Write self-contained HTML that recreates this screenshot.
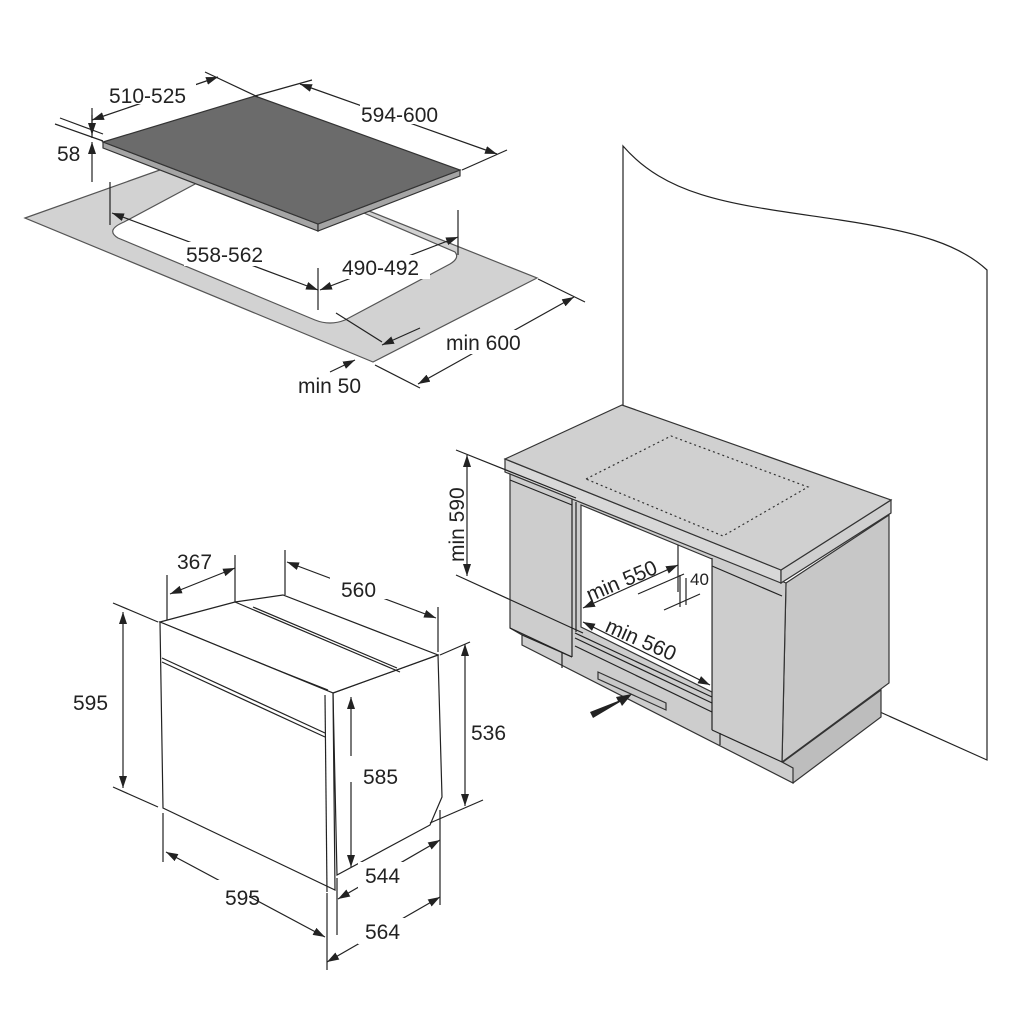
<!DOCTYPE html>
<html><head><meta charset="utf-8"><style>
html,body{margin:0;padding:0;background:#fff;}
svg{display:block;}
text{font-family:"Liberation Sans",Arial,sans-serif;font-size:21px;fill:#222;}
</style></head><body>
<svg width="1024" height="1024" viewBox="0 0 1024 1024" xmlns="http://www.w3.org/2000/svg">
<defs>
<marker id="a" viewBox="0 0 12 8" refX="12" refY="4" markerWidth="12" markerHeight="8" markerUnits="userSpaceOnUse" orient="auto-start-reverse"><path d="M0,0 L12,4 L0,8 z" fill="#222"/></marker>
</defs>
<g stroke="#222" stroke-width="1.2" fill="none">

<polygon points="25,218 216,150 537,278 373,362" fill="#d2d2d2" stroke="#555"/>
<path d="M124,222 L240,160 L455,252 Q460,258 450,264 L345,320 Q330,326 315,320 L118,238 Q105,230 124,222 z" fill="#fff" stroke="#555"/>
<polygon points="103,142 318,224 318,231 103,148" fill="#a5a5a5" stroke="#333"/>
<polygon points="318,224 460,170 460,176 318,231" fill="#a5a5a5" stroke="#333"/>
<polygon points="103,142 255,96 460,170 318,224" fill="#6b6b6b" stroke="#333"/>

<line x1="92" y1="120" x2="218" y2="77" marker-start="url(#a)" marker-end="url(#a)"/>
<line x1="205" y1="72" x2="258" y2="97"/>
<line x1="92" y1="108" x2="92" y2="138"/>
<line x1="255" y1="96" x2="312" y2="80"/>
<line x1="300" y1="84" x2="497" y2="154" marker-start="url(#a)" marker-end="url(#a)"/>
<line x1="462" y1="170" x2="507" y2="150"/>
<line x1="55" y1="124" x2="103" y2="141"/>
<line x1="60" y1="118" x2="103" y2="134"/>
<line x1="92" y1="115" x2="92" y2="135" marker-end="url(#a)"/>
<line x1="92" y1="182" x2="92" y2="142" marker-end="url(#a)"/>
<line x1="110" y1="182" x2="110" y2="225"/>
<line x1="318" y1="268" x2="318" y2="310"/>
<line x1="112" y1="213" x2="318" y2="290" marker-start="url(#a)" marker-end="url(#a)"/>
<line x1="458" y1="210" x2="458" y2="255"/>
<line x1="320" y1="290" x2="458" y2="237" marker-start="url(#a)" marker-end="url(#a)"/>
<line x1="538" y1="279" x2="585" y2="302"/>
<line x1="375" y1="365" x2="420" y2="388"/>
<line x1="418" y1="384" x2="574" y2="297" marker-start="url(#a)" marker-end="url(#a)"/>
<line x1="336" y1="313" x2="382" y2="342"/>
<line x1="330" y1="372" x2="355" y2="360" marker-end="url(#a)"/>
<line x1="420" y1="328" x2="382" y2="345" marker-end="url(#a)"/>

<path d="M623,410 L623,146 C670,200 740,205 840,220 C920,232 960,245 987,270 L987,760 L880,712" fill="#fff" stroke="#222"/>

<polygon points="783,762 881,690 881,717 793,783" fill="#bdbdbd" stroke="#333"/>
<polygon points="786,583 889,515 889,683 782,762" fill="#c7c7c7" stroke="#333"/>
<polygon points="510,470 786,583 782,762 793,768 793,783 522,645 522,635 510,628" fill="#cdcdcd" stroke="#333"/>
<line x1="510" y1="628" x2="572" y2="657"/>
<line x1="572" y1="497" x2="572" y2="657"/>
<line x1="712" y1="558" x2="712" y2="730"/>
<line x1="712" y1="730" x2="782" y2="762"/>
<line x1="712" y1="566" x2="782" y2="596"/>
<line x1="510" y1="480" x2="572" y2="505"/>
<line x1="522" y1="635" x2="572" y2="657"/>
<line x1="562" y1="652" x2="562" y2="668"/>
<line x1="720" y1="733" x2="720" y2="745"/>
<polygon points="581,505 712,559 712,692 581,627" fill="#fff" stroke="#333"/>
<line x1="576" y1="502" x2="576" y2="632"/>
<line x1="678" y1="545" x2="678" y2="592"/>
<line x1="575" y1="633" x2="712" y2="697"/>
<line x1="575" y1="638" x2="712" y2="703"/>
<line x1="575" y1="646" x2="712" y2="712"/>
<polygon points="598,672 666,703 666,710 598,679" fill="#c8c8c8" stroke="#333"/>
<polygon points="590,712 618,701 616,697 632,694 622,706 620,702 593,718" fill="#222" stroke="none"/>
<polygon points="505,459 781,570 781,583 505,472" fill="#d8d8d8" stroke="#333"/>
<polygon points="781,570 891,500 891,513 781,583" fill="#cfcfcf" stroke="#333"/>
<polygon points="505,459 622,405 891,500 781,570" fill="#d0d0d0" stroke="#333"/>
<polygon points="586,479 671,436 808,487 723,536" fill="none" stroke="#333" stroke-dasharray="2,3"/>
<line x1="456" y1="450" x2="576" y2="498"/>
<line x1="456" y1="575" x2="583" y2="633"/>
<line x1="467" y1="455" x2="467" y2="576" marker-start="url(#a)" marker-end="url(#a)"/>
<line x1="583" y1="608" x2="678" y2="565" marker-start="url(#a)" marker-end="url(#a)"/>
<line x1="583" y1="622" x2="710" y2="685" marker-start="url(#a)" marker-end="url(#a)"/>
<line x1="638" y1="594" x2="684" y2="574"/>
<line x1="664" y1="610" x2="700" y2="594"/>
<line x1="680" y1="575" x2="680" y2="607"/>
<line x1="686" y1="578" x2="686" y2="605"/>

<polygon points="333,693 438,655 442,797 430,825 337,875" fill="#fff" stroke="#222"/>
<polygon points="160,622 235,602 283,595 438,655 333,693" fill="#fff" stroke="#222"/>
<line x1="235" y1="602" x2="400" y2="672"/>
<line x1="253" y1="607" x2="397" y2="668"/>
<line x1="165" y1="626" x2="328" y2="690"/>
<polygon points="160,622 333,693 335,890 163,808" fill="#fff" stroke="#222"/>
<line x1="325" y1="695" x2="327" y2="892"/>
<line x1="162" y1="658" x2="325" y2="733"/>
<line x1="162" y1="662" x2="325" y2="737"/>
<line x1="167" y1="575" x2="167" y2="620"/>
<line x1="235" y1="555" x2="235" y2="602"/>
<line x1="170" y1="594" x2="235" y2="568" marker-start="url(#a)" marker-end="url(#a)"/>
<line x1="285" y1="550" x2="285" y2="595"/>
<line x1="438" y1="607" x2="438" y2="652"/>
<line x1="287" y1="562" x2="436" y2="618" marker-start="url(#a)" marker-end="url(#a)"/>
<line x1="113" y1="603" x2="158" y2="622"/>
<line x1="113" y1="787" x2="158" y2="807"/>
<line x1="123" y1="612" x2="123" y2="788" marker-start="url(#a)" marker-end="url(#a)"/>
<line x1="163" y1="813" x2="163" y2="862"/>
<line x1="327" y1="893" x2="327" y2="970"/>
<line x1="166" y1="852" x2="325" y2="937" marker-start="url(#a)" marker-end="url(#a)"/>
<line x1="351" y1="697" x2="351" y2="867" marker-start="url(#a)" marker-end="url(#a)"/>
<line x1="440" y1="655" x2="470" y2="642"/>
<line x1="430" y1="823" x2="483" y2="800"/>
<line x1="465" y1="644" x2="465" y2="806" marker-start="url(#a)" marker-end="url(#a)"/>
<line x1="440" y1="810" x2="440" y2="905"/>
<line x1="337" y1="878" x2="337" y2="935"/>
<line x1="338" y1="899" x2="440" y2="840" marker-start="url(#a)" marker-end="url(#a)"/>
<line x1="327" y1="962" x2="440" y2="897" marker-start="url(#a)" marker-end="url(#a)"/>
</g>

<g fill="#fff" stroke="none">
<rect x="108" y="80" width="88" height="24"/>
<rect x="360" y="100" width="90" height="24"/>
<rect x="184" y="242" width="90" height="24"/>
<rect x="340" y="255" width="90" height="24"/>
<rect x="444" y="330" width="88" height="24"/>
<rect x="346" y="756" width="62" height="26"/>
<rect x="175" y="880" width="74" height="26"/>
<rect x="330" y="573" width="66" height="26"/>
<rect x="358" y="862" width="52" height="26"/>
<rect x="358" y="918" width="52" height="26"/>
</g>
<text x="109" y="103">510-525</text>
<text x="361" y="122">594-600</text>
<text x="57" y="161">58</text>
<text x="186" y="262">558-562</text>
<text x="342" y="275">490-492</text>
<text x="446" y="350">min 600</text>
<text x="298" y="393">min 50</text>
<text transform="translate(464,562) rotate(-90)">min 590</text>
<text transform="translate(590,602) rotate(-23)">min 550</text>
<text transform="translate(604,631) rotate(24)">min 560</text>
<text x="690" y="585" style="font-size:17px">40</text>
<text x="177" y="569">367</text>
<text x="341" y="597">560</text>
<text x="73" y="710">595</text>
<text x="471" y="740">536</text>
<text x="363" y="784">585</text>
<text x="365" y="883">544</text>
<text x="225" y="905">595</text>
<text x="365" y="939">564</text>
</svg>
</body></html>
